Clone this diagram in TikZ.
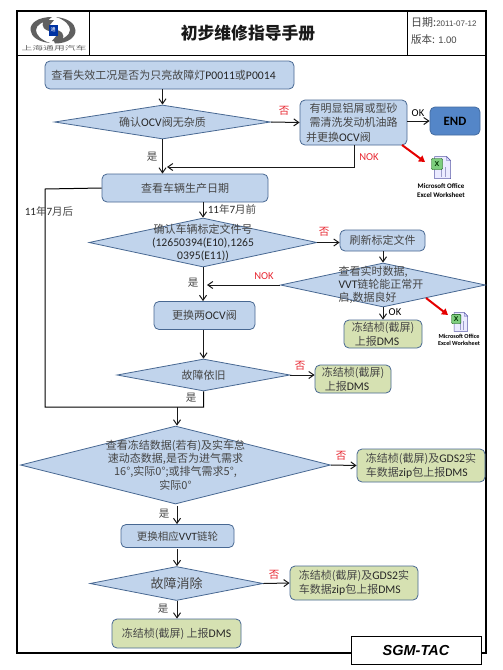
\documentclass[tikz,border=0pt]{standalone}
\usepackage{fontspec}
\setmainfont{Noto Sans CJK SC}
\newfontfamily\latfont[Scale=1.06]{Carlito}
\newfontfamily\arialfont{Liberation Sans}
\newcommand{\lt}[1]{{\latfont\color{black!85}#1}}
\usetikzlibrary{shapes.geometric,arrows.meta}
\definecolor{bluefill}{RGB}{193,212,236}
\definecolor{blueedge}{RGB}{72,104,146}
\definecolor{greenfill}{RGB}{214,225,178}
\definecolor{endfill}{RGB}{84,134,200}
\definecolor{txt}{RGB}{70,70,70}
\definecolor{redtxt}{RGB}{232,40,50}
\tikzset{
  x=1pt,y=-1pt,
  base/.style={draw=blueedge,line width=0.8pt,rounded corners=5pt,align=center,text=txt,inner sep=0pt,font=\fontsize{11}{14.5}\selectfont},
  bluebox/.style={base,fill=bluefill},
  greenbox/.style={base,fill=greenfill},
  dia/.style={diamond,draw=blueedge,line width=0.8pt,fill=bluefill,inner sep=0pt},
  dtext/.style={align=center,text=txt,inner sep=0pt,font=\fontsize{11}{13.3}\selectfont},
  lab/.style={inner sep=0pt,text=txt,font=\fontsize{10.5}{12}\selectfont},
  redlab/.style={inner sep=0pt,text=redtxt,font=\fontsize{10.5}{12}\selectfont},
  conn/.style={draw=black!90,line width=1pt,-{Straight Barb[length=5pt,width=7pt]}},
  plain/.style={draw=black,line width=1pt},
  redarrow/.style={draw=red!90!black,line width=2pt,-{Triangle[length=6pt,width=7pt]}},
  frame/.style={draw=black,line width=1pt},
  icolab/.style={inner sep=0pt,align=center,text=black,font=\latfont\bfseries\fontsize{6.6}{9}\selectfont},
}
\newcommand{\excelicon}[2]{%
  \begin{scope}[shift={(#1)},scale=#2]
    \fill[white!92!blue,draw=gray!70!blue,line width=.5pt] (-7,-11) -- (5,-11) -- (9,-7) -- (9,11) -- (-7,11) -- cycle;
    \fill[blue!15!white,draw=gray!70!blue,line width=.4pt] (5,-11) -- (5,-7) -- (9,-7) -- cycle;
    \draw[blue!30!gray!60,line width=.4pt] (-2,-1) grid[step=4] (7,9);
    \fill[green!45!gray!70,draw=green!30!black,line width=.4pt,rounded corners=1pt] (-10,-9) rectangle (1,2);
    \node[inner sep=0pt,text=black!80!green,font=\arialfont\bfseries\fontsize{7}{7}\selectfont] at (-4.5,-3.5) {X};
  \end{scope}}
\begin{document}
\begin{tikzpicture}
\useasboundingbox (0,0) rectangle (503,670);
\fill[white] (0,0) rectangle (503,670);
% page frame
\draw[black,line width=2pt] (17,11) rectangle (486,652.7);
\draw[frame] (17,55) -- (486,55);
\draw[frame] (89.5,11) -- (89.5,55);
\draw[frame] (407.5,11) -- (407.5,55);
% logo
\fill[gray!75!black,even odd rule]
  (52,17) .. controls (38,17) and (30,23) .. (30.5,30) .. controls (31,37) and (39,42) .. (50,43)
  .. controls (41,40) and (36,35) .. (36,30) .. controls (36,25) and (43,21) .. (52,20) .. controls (47,21) and (47,21) .. (52,17) -- cycle;
\fill[gray!75!black]
  (55,43.5) .. controls (68,43.5) and (76,37) .. (75.5,30) .. controls (75,23) and (67,18) .. (56,17)
  .. controls (65,20) and (70,25) .. (70,30) .. controls (70,35) and (63,40) .. (54,41) -- cycle;
\fill[gray!75!black] (44,20) .. controls (40,28) and (46,30) .. (49,31) -- (49,26) -- (54,20) -- cycle;
\fill[gray!75!black] (62,41) .. controls (66,33) and (60,31) .. (57,30) -- (57,35) -- (52,41) -- cycle;
\fill[blue!55!black!80!cyan] (49,24.5) rectangle (57.5,36);
\node[inner sep=0pt,text=white,font=\fontsize{5}{5}\selectfont] at (53.2,30) {通};
\node[inner sep=0pt,text=gray!80!black,font=\fontsize{6}{6}\selectfont] (logotext) at (54,48.5) {\scalebox{1.8}[1]{上海通用汽车}};
% header text
\node[inner sep=0pt,font=\bfseries\fontsize{16.8}{18}\selectfont,text=black!90] (title) at (248,33) {初步维修指导手册};
\node[inner sep=0pt,anchor=west,text=txt,font=\fontsize{11}{12}\selectfont] (date) at (411,22) {日期:{\arialfont\fontsize{8}{12}\selectfont 2011-07-12}};
\node[inner sep=0pt,anchor=west,text=txt,font=\fontsize{10.5}{12}\selectfont] (ver) at (411,39.5) {版本: {\arialfont\fontsize{9.5}{12}\selectfont 1.00}};
% nodes
\node[bluebox,minimum width=249pt,minimum height=28pt] (b1) at (169.5,75) {\hspace*{-6pt}查看失效工况是否为只亮故障灯\lt{P0011}或\lt{P0014}\hspace*{6pt}};
\node[dia,minimum width=216pt,minimum height=34pt] (d1) at (162.5,122) {};
\node[dtext] (d1t) at (d1.center) {确认\lt{OCV}阀无杂质};
\node[bluebox,minimum width=107pt,minimum height=45pt] (b2) at (353.5,122.5) {有明显铝屑或型砂\\需清洗发动机油路\\\hspace*{-30pt}并更换\lt{OCV}阀};
\node[base,fill=endfill,draw=endfill!80!black,minimum width=50pt,minimum height=28pt,text=black,font=\latfont\bfseries\fontsize{12}{14}\selectfont] (end) at (455,121) {END};
\node[bluebox,minimum width=166pt,minimum height=28pt] (b3) at (185,188) {查看车辆生产日期};
\node[dia,minimum width=228pt,minimum height=49pt] (d2) at (203,242.5) {};
\node[dtext] (d2t) at (d2.center) {确认车辆标定文件号\\\lt{(12650394(E10),1265}\\\lt{0395(E11))}};
\node[bluebox,minimum width=85pt,minimum height=21pt] (b4) at (382.5,240.5) {刷新标定文件};
\node[dia,minimum width=205pt,minimum height=44pt] (d3) at (383,285) {};
\node[dtext,align=left] (d3t) at (381,285) {查看实时数据,\\\lt{VVT}链轮能正常开\\启,数据良好};
\node[bluebox,minimum width=101pt,minimum height=28pt] (b5) at (204.5,315.5) {更换两\lt{OCV}阀};
\node[greenbox,minimum width=78pt,minimum height=28pt,font=\fontsize{11}{14}\selectfont] (g1) at (383,334) {冻结桢(截屏)\\\hspace*{-12pt}上报\lt{DMS}};
\node[dia,minimum width=173pt,minimum height=32pt] (d4) at (203.5,375) {};
\node[dtext] (d4t) at (d4.center) {故障依旧};
\node[greenbox,minimum width=76pt,minimum height=28pt,font=\fontsize{11}{14}\selectfont] (g2) at (353,379) {冻结桢(截屏)\\\hspace*{-12pt}上报\lt{DMS}};
\node[dia,minimum width=310pt,minimum height=78pt] (d5) at (175.5,465) {};
\node[dtext] (d5t) at (d5.center) {查看冻结数据(若有)及实车怠\\速动态数据,是否为进气需求\\16°,实际0°;或排气需求5°,\\实际0°};
\node[greenbox,minimum width=128pt,minimum height=33pt,font=\fontsize{11}{14}\selectfont,align=left] (g3) at (421,465.5) {冻结桢(截屏)及\lt{GDS2}实\\车数据\lt{zip}包上报\lt{DMS}};
\node[bluebox,minimum width=113pt,minimum height=23pt,font=\fontsize{10.5}{12}\selectfont] (b6) at (177.5,536) {更换相应\lt{VVT}链轮};
\node[dia,minimum width=173pt,minimum height=34pt] (d6) at (176.5,583.5) {};
\node[dtext,font=\fontsize{13}{14}\selectfont] (d6t) at (d6.center) {故障消除};
\node[greenbox,minimum width=128pt,minimum height=34pt,font=\fontsize{11}{14}\selectfont,align=left] (g4) at (354,583) {冻结桢(截屏)及\lt{GDS2}实\\车数据\lt{zip}包上报\lt{DMS}};
\node[greenbox,minimum width=129pt,minimum height=29pt] (g5) at (176.5,633.5) {冻结桢(截屏) 上报\lt{DMS}};
\node[draw=black,line width=1pt,fill=white,minimum width=130pt,minimum height=27.5pt,inner sep=0pt,font=\arialfont\bfseries\itshape\fontsize{14.5}{15}\selectfont] (sgm) at (416,650.5) {SGM-TAC};
% connector helper coordinates
\coordinate (c1) at (354,167);
\coordinate (c1e) at (167,167);
\coordinate (c2) at (45,189);
\coordinate (c3) at (45,407);
\coordinate (c4) at (203.5,407);
\coordinate (c5) at (177,407);
\coordinate (c6) at (207,285);
\coordinate (x1) at (425,162);
\coordinate (x1s) at (402,145);
\coordinate (x2) at (448,315);
\coordinate (x2s) at (426,298);
% connectors
\draw[conn] (d1.north |- b1.south) -- (d1.north);
\draw[conn] (d1.east) -- (b2.west);
\draw[conn] (b2.east |- end.west) -- (end.west);
\draw[conn] (d1.south) -- (d1.south |- b3.north);
\draw[conn] (c1 |- b2.south) -- (c1) -- (c1e);
\draw[conn] (d2.north |- b3.south) -- (d2.north);
\draw[plain] (b3.west) -- (c2) -- (c3) -- (c4) -- (d4.south);
\draw[conn] (c5) -- (d5.north -| c5);
\draw[conn] (d2.east) -- (b4.west |- d2.east);
\draw[conn] (d3.north |- b4.south) -- (d3.north);
\draw[conn] (d3.west) -- (c6);
\draw[conn] (d2.south) -- (d2.south |- b5.north);
\draw[conn] (d3.south) -- (g1.north -| d3.south);
\draw[conn] (d4.north |- b5.south) -- (d4.north);
\draw[conn] (d4.east) -- (g2.west |- d4.east);
\draw[conn] (d5.east) -- (g3.west);
\draw[conn] (b6.north -| c5) ++(0,-18) -- (b6.north -| c5);
\draw[conn] (d6.north -| c5) ++(0,-17) -- (d6.north -| c5);
\draw[conn] (d6.east) -- (g4.west);
\draw[conn] (d6.south -| c5) -- (g5.north -| c5);
\draw[redarrow] (x1s) -- (x1);
\draw[redarrow] (x2s) -- (x2);
% connector labels
\node[redlab] (l1) at (284,111) {否};
\node[lab] (l2) at (152,157) {是};
\node[redlab,font=\latfont\fontsize{10}{12}\selectfont] (l3) at (369,157.5) {NOK};
\node[lab,font=\latfont\fontsize{10}{12}\selectfont,text=black] (l4) at (418,113.5) {OK};
\node[lab] (l5) at (49,211) {\lt{11}年\lt{7}月后};
\node[lab] (l6) at (232,209) {\lt{11}年\lt{7}月前};
\node[redlab] (l7) at (324,232) {否};
\node[redlab,font=\latfont\fontsize{10}{12}\selectfont] (l8) at (264,276.5) {NOK};
\node[lab] (l9) at (193,283) {是};
\node[lab,font=\latfont\fontsize{10}{12}\selectfont,text=black] (l10) at (395,312.5) {OK};
\node[redlab] (l11) at (300,366) {否};
\node[lab] (l12) at (191,398) {是};
\node[redlab] (l13) at (341,456) {否};
\node[lab] (l14) at (164,514) {是};
\node[redlab] (l15) at (274,575) {否};
\node[lab] (l16) at (163,609) {是};
% spreadsheet icons
\excelicon{441.5,167.5}{1}
\node[icolab] (i1) at (441,191) {Microsoft Office\\Excel Worksheet};
\excelicon{460,322}{.85}
\node[icolab,font=\latfont\bfseries\fontsize{5.8}{7}\selectfont] (i2) at (459,340) {Microsoft Office\\Excel Worksheet};
\end{tikzpicture}
\end{document}
